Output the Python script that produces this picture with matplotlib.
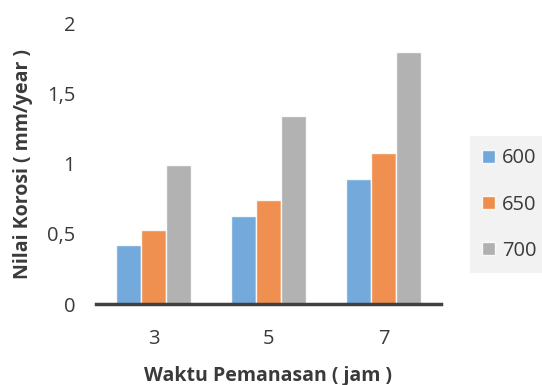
import matplotlib
matplotlib.use("Agg")
import matplotlib.pyplot as plt
from matplotlib.patches import Patch
import numpy as np

plt.rcParams['font.family'] = ['Open Sans', 'DejaVu Sans']

kategori = ['3', '5', '7']
seri = ['600', '650', '700']
nilai_600 = [0.42, 0.63, 0.89]
nilai_650 = [0.53, 0.74, 1.08]
nilai_700 = [0.99, 1.34, 1.80]
warna = ['#5b9bd5', '#ed7d31', '#a5a5a5']
yticks = [0, 0.5, 1, 1.5, 2]
ytick_labels = ['0', '0,5', '1', '1,5', '2']

teks = '#3a3a3a'

fig = plt.figure(figsize=(5.42, 3.85), dpi=100)
ax = fig.add_axes([96/542, (385-304)/385, (441-96)/542, (304-23.5)/385])

x = np.arange(len(kategori))
w = 0.22
for i, (vals, c) in enumerate(zip([nilai_600, nilai_650, nilai_700], warna)):
    ax.bar(x + (i - 1) * w, vals, w, color=c, edgecolor='white', linewidth=1, alpha=0.85, zorder=2)

ax.set_xlim(-0.5, 2.5)
ax.set_ylim(0, 2)
ax.set_xticks(x)
ax.set_xticklabels(kategori)
ax.set_yticks(yticks)
ax.set_yticklabels(ytick_labels)
ax.tick_params(axis='both', length=0, labelsize=14.5, colors=teks)
ax.tick_params(axis='x', pad=18)
ax.tick_params(axis='y', pad=15)
for s in ['top', 'right', 'left']:
    ax.spines[s].set_visible(False)
ax.spines['bottom'].set_color('#404040')
ax.spines['bottom'].set_linewidth(2.5)
ax.spines['bottom'].set_zorder(3)

ax.set_xlabel('Waktu Pemanasan ( jam )', fontsize=14, fontweight='bold', color=teks, labelpad=12)
ax.set_ylabel('Nilai Korosi ( mm/year )', fontsize=14, fontweight='bold', color=teks, labelpad=10)

handles = [Patch(facecolor=c, edgecolor='white', alpha=0.85) for c in warna]
leg = fig.legend(handles, seri, loc='center left', bbox_to_anchor=(470/542, (385-204.5)/385),
                 fontsize=14.5, frameon=True, facecolor='#f2f2f2', edgecolor='none', framealpha=1,
                 handlelength=0.65, handleheight=0.65, handletextpad=0.35, labelspacing=1.3,
                 borderpad=0.6, borderaxespad=0, fancybox=False)
for t in leg.get_texts():
    t.set_color(teks)

fig.savefig('out.png', dpi=100)
